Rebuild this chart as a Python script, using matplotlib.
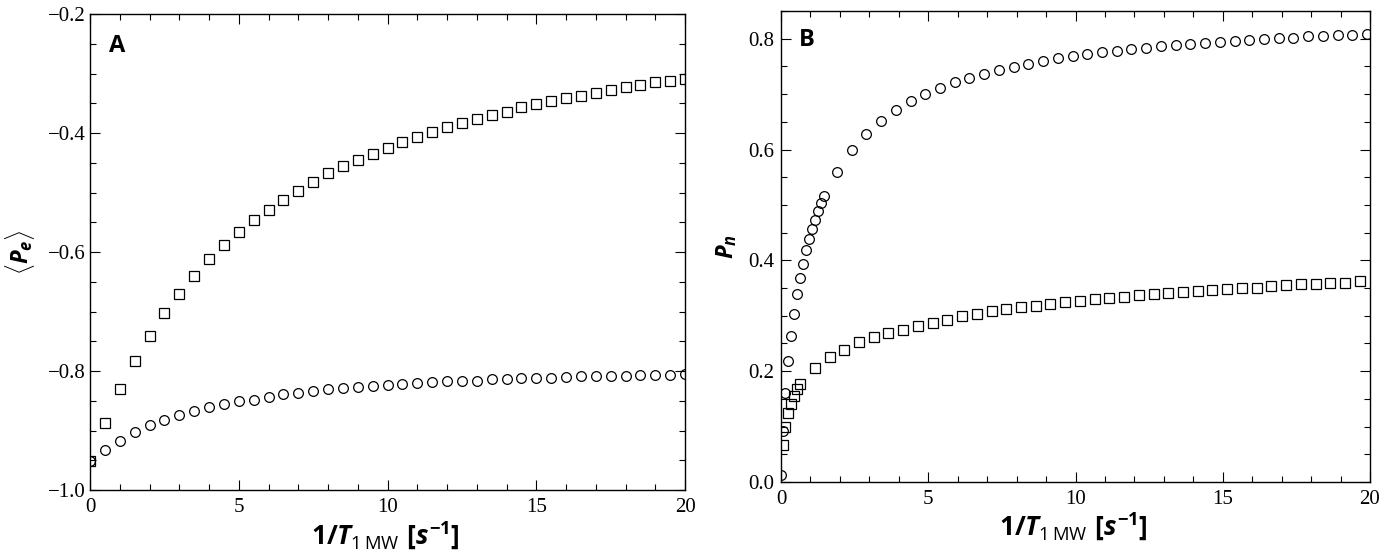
import matplotlib
matplotlib.use("Agg")
import matplotlib.pyplot as plt
from matplotlib.ticker import MultipleLocator

# ---------------- data ----------------
# Panel A: <P_e> vs 1/T1MW
xA = [0.0, 0.5, 1.0, 1.5, 2.0, 2.5, 3.0, 3.5, 4.0, 4.5, 5.0, 5.5, 6.0, 6.5, 7.0, 7.5,
      8.0, 8.5, 9.0, 9.5, 10.0, 10.5, 11.0, 11.5, 12.0, 12.5, 13.0, 13.5, 14.0, 14.5,
      15.0, 15.5, 16.0, 16.5, 17.0, 17.5, 18.0, 18.5, 19.0, 19.5, 20.0]
A_squares = [-0.952, -0.887, -0.831, -0.783, -0.741, -0.703, -0.670, -0.640, -0.612, -0.589,
             -0.567, -0.547, -0.529, -0.513, -0.497, -0.482, -0.468, -0.456, -0.445, -0.435,
             -0.425, -0.415, -0.406, -0.398, -0.390, -0.383, -0.376, -0.369, -0.364, -0.357,
             -0.352, -0.347, -0.342, -0.337, -0.332, -0.327, -0.323, -0.319, -0.315, -0.312,
             -0.309]
A_circles = [-0.952, -0.933, -0.917, -0.903, -0.891, -0.882, -0.874, -0.868, -0.861, -0.855,
             -0.851, -0.848, -0.843, -0.839, -0.837, -0.834, -0.831, -0.829, -0.827, -0.826,
             -0.824, -0.822, -0.821, -0.819, -0.817, -0.816, -0.816, -0.814, -0.814, -0.812,
             -0.811, -0.811, -0.810, -0.809, -0.809, -0.808, -0.808, -0.807, -0.806, -0.806,
             -0.805]

# Panel B: P_n vs 1/T1MW
xB_circles = [0.0, 0.08, 0.15, 0.25, 0.35, 0.45, 0.55, 0.65, 0.75, 0.85, 0.95, 1.05, 1.15,
              1.25, 1.35, 1.45,
              1.9, 2.4, 2.9, 3.4, 3.9, 4.4, 4.9, 5.4, 5.9, 6.4, 6.9, 7.4, 7.9, 8.4, 8.9,
              9.4, 9.9, 10.4, 10.9, 11.4, 11.9, 12.4, 12.9, 13.4, 13.9, 14.4, 14.9, 15.4,
              15.9, 16.4, 16.9, 17.4, 17.9, 18.4, 18.9, 19.4, 19.9]
B_circles = [0.013, 0.092, 0.161, 0.218, 0.264, 0.304, 0.339, 0.369, 0.394, 0.418, 0.438,
             0.456, 0.473, 0.489, 0.504, 0.517,
             0.559, 0.599, 0.628, 0.652, 0.671, 0.687, 0.700, 0.711, 0.721, 0.729, 0.737,
             0.744, 0.749, 0.754, 0.759, 0.765, 0.768, 0.772, 0.776, 0.778, 0.781, 0.783,
             0.786, 0.788, 0.790, 0.792, 0.794, 0.796, 0.798, 0.799, 0.801, 0.802, 0.804,
             0.805, 0.806, 0.807, 0.808]
xB_squares = [0.07, 0.15, 0.24, 0.33, 0.44, 0.54, 0.64,
              1.15, 1.65, 2.15, 2.65, 3.15, 3.65, 4.15, 4.65, 5.15, 5.65, 6.15, 6.65, 7.15,
              7.65, 8.15, 8.65, 9.15, 9.65, 10.15, 10.65, 11.15, 11.65, 12.15, 12.65, 13.15,
              13.65, 14.15, 14.65, 15.15, 15.65, 16.15, 16.65, 17.15, 17.65, 18.15, 18.65,
              19.15, 19.65]
B_squares = [0.066, 0.100, 0.124, 0.141, 0.155, 0.167, 0.176,
             0.206, 0.226, 0.238, 0.252, 0.261, 0.268, 0.275, 0.282, 0.287, 0.293, 0.299,
             0.303, 0.308, 0.312, 0.315, 0.318, 0.322, 0.324, 0.327, 0.330, 0.332, 0.334,
             0.337, 0.339, 0.341, 0.343, 0.345, 0.346, 0.348, 0.350, 0.351, 0.353, 0.355,
             0.357, 0.358, 0.359, 0.360, 0.362]

x_ticks = [0, 5, 10, 15, 20]
x_ticklabels = ['0', '5', '10', '15', '20']
yA_ticks = [-1.0, -0.8, -0.6, -0.4, -0.2]
yA_ticklabels = ['\u22121.0', '\u22120.8', '\u22120.6', '\u22120.4', '\u22120.2']
yB_ticks = [0.0, 0.2, 0.4, 0.6, 0.8]
yB_ticklabels = ['0.0', '0.2', '0.4', '0.6', '0.8']

xlabel_text = r'$\mathbf{1/}T_{\mathrm{1\,MW}}\ \mathbf{[}s^{\mathbf{-1}}\mathbf{]}$'
ylabel_A = r'$\langle P_e\rangle$'
ylabel_B = r'$P_n$'

# ---------------- style ----------------
plt.rcParams['mathtext.fontset'] = 'custom'
plt.rcParams['mathtext.rm'] = 'Open Sans'
plt.rcParams['mathtext.it'] = 'Open Sans:italic:bold'
plt.rcParams['mathtext.bf'] = 'Open Sans:bold'

TICK_FAMILY = 'Liberation Serif'
TICK_SIZE = 15

fig = plt.figure(figsize=(13.8, 5.59), dpi=100)
axA = fig.add_axes([90 / 1380, 1 - 490 / 559, 595 / 1380, 476 / 559])
axB = fig.add_axes([781 / 1380, 1 - 482 / 559, 589 / 1380, 471 / 559])

mk = dict(linestyle='none', markerfacecolor='none', markeredgecolor='black',
          markeredgewidth=0.9, markersize=7)

axA.plot(xA, A_circles, marker='o', **mk)
axA.plot(xA, A_squares, marker='s', **mk)
axB.plot(xB_circles, B_circles, marker='o', **mk)
axB.plot(xB_squares, B_squares, marker='s', **mk)

axA.set_xlim(0, 20)
axA.set_ylim(-1.0, -0.2)
axB.set_xlim(0, 20)
axB.set_ylim(0.0, 0.85)

for ax in (axA, axB):
    ax.xaxis.set_minor_locator(MultipleLocator(1))
    ax.yaxis.set_minor_locator(MultipleLocator(0.05))
    ax.tick_params(which='both', direction='in', top=True, right=True,
                   width=0.8, colors='black')
    ax.tick_params(which='major', length=7)
    ax.tick_params(which='minor', length=4)
    ax.tick_params(axis='x', which='major', pad=6)
    ax.set_xticks(x_ticks)
    ax.set_xticklabels(x_ticklabels, fontfamily=TICK_FAMILY, fontsize=TICK_SIZE)
    for sp in ax.spines.values():
        sp.set_linewidth(1.0)

axA.set_yticks(yA_ticks)
axA.set_yticklabels(yA_ticklabels, fontfamily=TICK_FAMILY, fontsize=TICK_SIZE)
axA.tick_params(axis='y', which='major', pad=3)
axB.set_yticks(yB_ticks)
axB.set_yticklabels(yB_ticklabels, fontfamily=TICK_FAMILY, fontsize=TICK_SIZE)
axB.tick_params(axis='y', which='major', pad=5)

# axis labels
axA.text(0.496, -0.097, xlabel_text, transform=axA.transAxes, ha='center', va='center',
         fontsize=19)
axB.text(0.496, -0.096, xlabel_text, transform=axB.transAxes, ha='center', va='center',
         fontsize=19)
axA.text(-0.118, 0.50, ylabel_A, transform=axA.transAxes, ha='center', va='center',
         rotation=90, fontsize=17)
axB.text(-0.092, 0.50, ylabel_B, transform=axB.transAxes, ha='center', va='center',
         rotation=90, fontsize=17)

# panel letters
axA.text(0.045, 0.933, 'A', transform=axA.transAxes, ha='center', va='center',
         fontfamily='Open Sans', fontweight='bold', fontsize=17)
axB.text(0.044, 0.938, 'B', transform=axB.transAxes, ha='center', va='center',
         fontfamily='Open Sans', fontweight='bold', fontsize=17)

fig.savefig('out.png', dpi=100)
